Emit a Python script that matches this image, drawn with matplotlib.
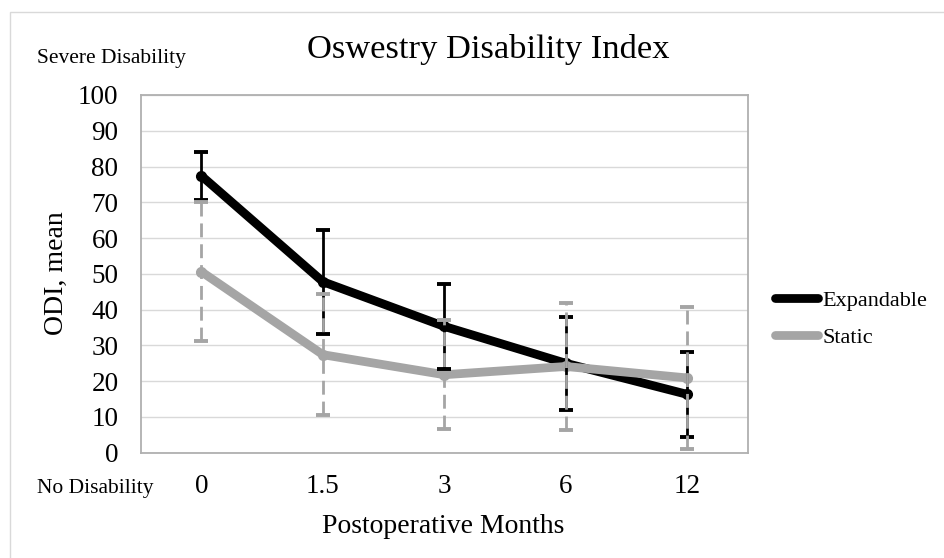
import matplotlib
matplotlib.use("Agg")
import matplotlib.pyplot as plt
from matplotlib.lines import Line2D
from matplotlib.patches import Rectangle

# values
months = ["0", "1.5", "3", "6", "12"]
expandable_mean = [77.4, 47.8, 35.3, 25.0, 16.3]
expandable_err = [6.7, 14.5, 12.0, 13.0, 11.8]
static_mean = [50.6, 27.4, 21.8, 24.1, 20.9]
static_err = [19.4, 17.0, 15.3, 17.8, 19.8]

BLACK = "#000000"
GRAY = "#A5A5A5"

plt.rcParams["font.family"] = ["Liberation Serif", "DejaVu Serif"]

W, H = 944, 558
fig = plt.figure(figsize=(W / 100, H / 100), dpi=100)
fig.patch.set_facecolor("white")

# plot area in pixels
left, right, top, bottom = 140.7, 748, 95, 452.7
ax = fig.add_axes([left / W, 1 - bottom / H, (right - left) / W, (bottom - top) / H])

x = list(range(len(months)))

# series lines (static drawn over expandable)
ax.plot(x, expandable_mean, color=BLACK, lw=6.3, marker="o", ms=7,
        solid_capstyle="round", zorder=3)
ax.plot(x, static_mean, color=GRAY, lw=6.3, marker="o", ms=7,
        solid_capstyle="round", zorder=4)

# error bars
eb1 = ax.errorbar(x, expandable_mean, yerr=expandable_err, fmt="none",
                  ecolor=BLACK, elinewidth=2.0, capsize=5, capthick=2.8, zorder=5)
eb2 = ax.errorbar(x, static_mean, yerr=static_err, fmt="none",
                  ecolor=GRAY, elinewidth=2.0, capsize=5, capthick=2.8, zorder=6)
for col in eb2[2]:
    col.set_linestyle((0, (5, 2.5)))

ax.set_xlim(-0.5, len(months) - 0.5)
ax.set_ylim(0, 100)
ax.set_yticks(range(0, 101, 10))
ax.set_xticks(x)
ax.set_xticklabels(months)
ax.tick_params(axis="both", length=0, labelsize=19.5)
ax.tick_params(axis="y", pad=16)
ax.tick_params(axis="x", pad=15)

ax.grid(axis="y", color="#D9D9D9", lw=1.0)
ax.set_axisbelow(True)
for s in ax.spines.values():
    s.set_color("#B0B0B0")
    s.set_linewidth(1.3)

# texts
fig.text(488 / W, 1 - 58 / H, "Oswestry Disability Index", fontsize=24.8,
         ha="center", va="baseline")
fig.text(37 / W, 1 - 63.3 / H, "Severe Disability", fontsize=15.5,
         ha="left", va="baseline")
fig.text(37 / W, 1 - 492.7 / H, "No Disability", fontsize=15.5,
         ha="left", va="baseline")
fig.text(443.5 / W, 1 - 533 / H, "Postoperative Months", fontsize=20,
         ha="center", va="baseline")
fig.text(63 / W, 1 - 273 / H, "ODI, mean", fontsize=20, rotation=90,
         rotation_mode="anchor", ha="center", va="baseline")

# legend
handles = [
    Line2D([], [], color=BLACK, lw=6.3, marker="o", ms=4, solid_capstyle="round"),
    Line2D([], [], color=GRAY, lw=6.3, marker="o", ms=4, solid_capstyle="round"),
]
fig.legend(handles, ["Expandable", "Static"], loc="upper left",
           bbox_to_anchor=(775 / W, 1 - 290 / H), frameon=False, fontsize=16,
           handlelength=1.95, handletextpad=0.2, borderpad=0, borderaxespad=0,
           labelspacing=0.75)

# chart area border (partly cropped in the reference)
fig.patches.append(Rectangle((10 / W, -0.1), 1.2, 1.1 - 12 / H, fill=False,
                             ec="#D9D9D9", lw=1.0, transform=fig.transFigure,
                             figure=fig))

fig.savefig("out.png", dpi=100)
